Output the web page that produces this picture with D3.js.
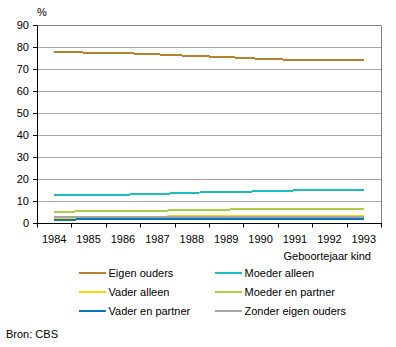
<!DOCTYPE html>
<html>
<head>
<meta charset="utf-8">
<script src="https://cdn.jsdelivr.net/npm/d3@7"></script>
<style>
  body { margin: 0; background: #fff; }
  svg { display: block; font-family: "Liberation Sans", Arial, sans-serif; font-size: 11px; }
</style>
</head>
<body>
<svg id="chart" width="396" height="347"></svg>
<script>
var years = [1984, 1985, 1986, 1987, 1988, 1989, 1990, 1991, 1992, 1993];
var yTicks = [0, 10, 20, 30, 40, 50, 60, 70, 80, 90];

var eigenOuders      = [77.8, 77.4, 77.2, 76.6, 75.9, 75.4, 74.6, 74.1, 73.9, 73.9];
var moederAlleen     = [12.4, 12.5, 12.7, 13.0, 13.6, 13.9, 14.2, 14.6, 14.7, 14.7];
var vaderAlleen      = [1.8, 2.0, 2.3, 2.7, 2.8, 2.9, 2.9, 2.9, 2.9, 2.9];
var moederEnPartner  = [4.7, 5.2, 5.3, 5.4, 5.6, 5.9, 6.1, 6.3, 6.3, 6.3];
var vaderEnPartner   = [1.3, 1.4, 1.4, 1.4, 1.4, 1.4, 1.4, 1.4, 1.4, 1.4];
var zonderEigen      = [2.5, 2.5, 2.5, 2.5, 2.5, 2.5, 2.5, 2.5, 2.5, 2.5];

var series = [
  { name: "Eigen ouders", values: eigenOuders, color: "#B5832D" },
  { name: "Moeder alleen", values: moederAlleen, color: "#1BBCC3" },
  { name: "Vader alleen", values: vaderAlleen, color: "#FFD400" },
  { name: "Moeder en partner", values: moederEnPartner, color: "#A9CF46" },
  { name: "Vader en partner", values: vaderEnPartner, color: "#0B76B5" },
  { name: "Zonder eigen ouders", values: zonderEigen, color: "#A6A6A6" }
];

(function () {
  var plotLeft = 37, plotRight = 381, plotTop = 25, plotBottom = 222.5;
  var svg = d3.select("#chart");

  var x = d3.scaleBand().domain(years).range([plotLeft, plotRight]);
  var y = d3.scaleLinear().domain([0, 90]).range([plotBottom, plotTop]);
  var py = function (v) { return Math.round(y(v)) + 0.5; };

  // horizontal gridlines, the top one doubles as plot border
  svg.append("g").selectAll("line")
    .data(yTicks.filter(function (d) { return d > 0; }))
    .enter().append("line")
    .attr("x1", plotLeft).attr("x2", plotRight)
    .attr("y1", py).attr("y2", py)
    .attr("stroke", function (d) { return d === 90 ? "#808080" : "#A6A6A6"; });

  svg.append("line")
    .attr("x1", plotRight + 0.5).attr("x2", plotRight + 0.5)
    .attr("y1", py(90)).attr("y2", py(0))
    .attr("stroke", "#808080");

  // y axis
  var yAxis = svg.append("g");
  yAxis.append("line")
    .attr("x1", plotLeft + 0.5).attr("x2", plotLeft + 0.5)
    .attr("y1", py(90)).attr("y2", py(0)).attr("stroke", "#000");
  var yt = yAxis.selectAll("g").data(yTicks).enter().append("g")
    .attr("transform", function (d) { return "translate(0," + py(d) + ")"; });
  yt.append("line").attr("x1", plotLeft - 4).attr("x2", plotLeft).attr("stroke", "#000");
  yt.append("text").attr("x", plotLeft - 8).attr("dy", "0.35em")
    .attr("text-anchor", "end").text(d3.format("d"));

  svg.append("text").attr("x", plotLeft).attr("y", 16).text("%");

  // x axis: labels centred in each band, ticks on band edges
  var xg = svg.append("g").attr("transform", "translate(0," + py(0) + ")");
  xg.append("line").attr("x1", plotLeft).attr("x2", plotRight + 1).attr("stroke", "#000");
  xg.selectAll("line.tk")
    .data(years.map(function (d) { return x(d); }).concat([plotRight]))
    .enter().append("line").attr("class", "tk")
    .attr("x1", function (d) { return Math.round(d) + 0.5; })
    .attr("x2", function (d) { return Math.round(d) + 0.5; })
    .attr("y1", 0).attr("y2", 4).attr("stroke", "#000");
  xg.selectAll("text")
    .data(years).enter().append("text")
    .attr("x", function (d) { return x(d) + x.bandwidth() / 2; })
    .attr("y", 19.5)
    .attr("text-anchor", "middle")
    .text(function (d) { return d; });

  svg.append("text").attr("x", 371).attr("y", 260).attr("text-anchor", "end")
    .text("Geboortejaar kind");

  // series lines, aliased so shallow slopes show as steps
  var line = d3.line()
    .x(function (d, i) { return x(years[i]) + x.bandwidth() / 2; })
    .y(function (d) { return y(d); });

  svg.append("g").selectAll("path")
    .data(series).enter().append("path")
    .attr("d", function (s) { return line(s.values); })
    .attr("fill", "none")
    .attr("stroke", function (s) { return s.color; })
    .attr("stroke-width", 2)
    .attr("shape-rendering", "crispEdges");

  // legend, two columns
  var leg = svg.append("g").selectAll("g")
    .data(series).enter().append("g")
    .attr("transform", function (s, i) {
      var col = i % 2, row = Math.floor(i / 2);
      return "translate(" + (col ? 215 : 79) + "," + [273, 292, 311][row] + ")";
    });
  leg.append("line").attr("x1", 0).attr("x2", 27)
    .attr("stroke", function (s) { return s.color; })
    .attr("stroke-width", 2).attr("shape-rendering", "crispEdges");
  leg.append("text").attr("x", 29.5).attr("y", 4)
    .text(function (s) { return s.name; });

  svg.append("text").attr("x", 6).attr("y", 338).text("Bron: CBS");
})();
</script>
</body>
</html>
